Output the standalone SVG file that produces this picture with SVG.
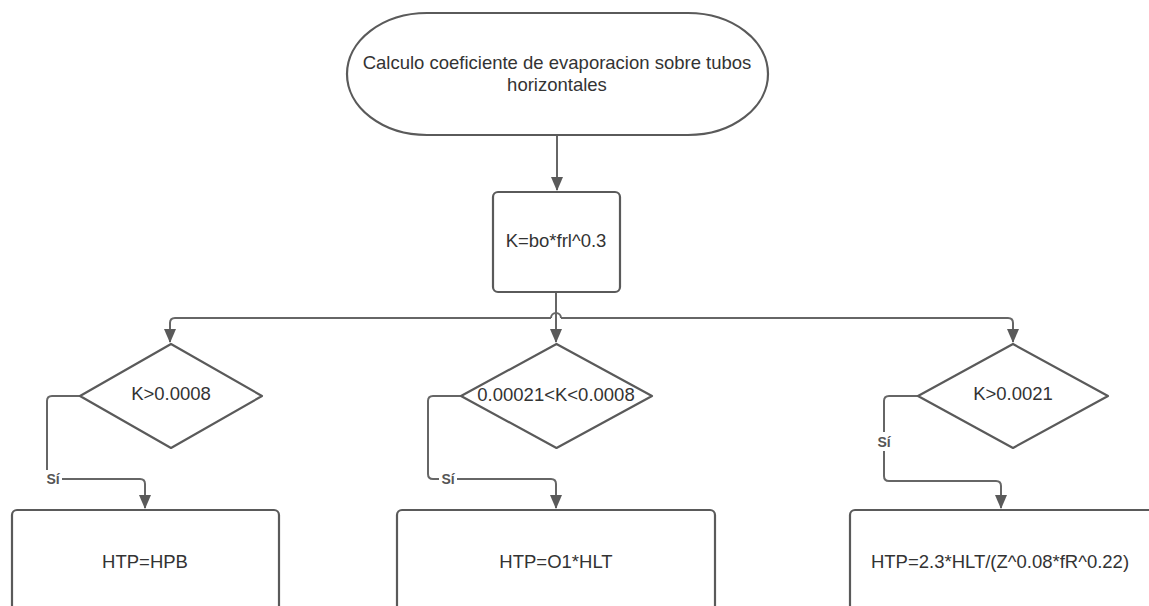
<svg xmlns="http://www.w3.org/2000/svg" width="1149" height="606" viewBox="0 0 1149 606">
<style>
.shape{fill:#ffffff;stroke:#5a5a5a;stroke-width:2.2}
.conn{fill:none;stroke:#666666;stroke-width:2}
.t{font-family:"Liberation Sans",Arial,sans-serif;font-size:18.5px;fill:#333333;text-anchor:middle}
.lbl{font-family:"Liberation Sans",Arial,sans-serif;font-size:14px;font-weight:bold;fill:#555555;text-anchor:middle}
</style>
<defs>
<marker id="arr" markerUnits="userSpaceOnUse" markerWidth="14" markerHeight="12" refX="13" refY="6" orient="auto" viewBox="0 0 14 12">
<path d="M0,0 L14,6 L0,12 Z" fill="#5a5a5a"/>
</marker>
</defs>
<rect width="1149" height="606" fill="#ffffff"/>
<g id="connectors">
<path class="conn" d="M557,135 V190" marker-end="url(#arr)"/>
<path class="conn" d="M556,292 V342" marker-end="url(#arr)"/>
<path class="conn" d="M551,318 H175 Q170,318 170,323 V342" marker-end="url(#arr)"/>
<path class="conn" d="M561,318 H1008 Q1013,318 1013,323 V342" marker-end="url(#arr)"/>
<path class="conn" d="M551,318 A5,5 0 0 1 561,318"/>
<path class="conn" d="M80,396 H52 Q47,396 47,401 V474 Q47,479 52,479 H140 Q145,479 145,484 V508" marker-end="url(#arr)"/>
<path class="conn" d="M461,396 H433 Q428,396 428,401 V474 Q428,479 433,479 H551 Q556,479 556,484 V508" marker-end="url(#arr)"/>
<path class="conn" d="M918,396 H889 Q884,396 884,401 V476 Q884,481 889,481 H996 Q1001,481 1001,486 V508" marker-end="url(#arr)"/>
<rect x="44" y="470" width="18" height="17" fill="#ffffff"/>
<text class="lbl" x="53" y="484">Sí</text>
<rect x="439" y="470" width="18" height="17" fill="#ffffff"/>
<text class="lbl" x="448" y="484">Sí</text>
<rect x="875" y="432" width="18" height="19" fill="#ffffff"/>
<text class="lbl" x="884" y="447">Sí</text>
</g>
<g id="start">
<rect class="shape" x="347" y="13" width="421" height="122" rx="80" ry="61"/>
<text class="t" x="557" y="69">Calculo coeficiente de evaporacion sobre tubos</text>
<text class="t" x="557" y="91">horizontales</text>
</g>
<g id="calcK">
<rect class="shape" x="493" y="192" width="127" height="100" rx="5"/>
<text class="t" x="556" y="247">K=bo*frl^0.3</text>
</g>
<g id="dec1">
<polygon class="shape" points="171,344 262,396 171,448 80,396" stroke-linejoin="round"/>
<text class="t" x="171" y="400">K&gt;0.0008</text>
</g>
<g id="dec2">
<polygon class="shape" points="556.5,344 652,396 556.5,448 461,396" stroke-linejoin="round"/>
<text class="t" x="556" y="401">0.00021&lt;K&lt;0.0008</text>
</g>
<g id="dec3">
<polygon class="shape" points="1013,344 1108,396 1013,448 918,396" stroke-linejoin="round"/>
<text class="t" x="1013" y="400">K&gt;0.0021</text>
</g>
<g id="res1">
<rect class="shape" x="12" y="510" width="267" height="120" rx="5"/>
<text class="t" x="145" y="568">HTP=HPB</text>
</g>
<g id="res2">
<rect class="shape" x="397" y="510" width="318" height="120" rx="5"/>
<text class="t" x="556" y="568">HTP=O1*HLT</text>
</g>
<g id="res3">
<rect class="shape" x="850" y="510" width="320" height="120" rx="5"/>
<text class="t" x="1000" y="568">HTP=2.3*HLT/(Z^0.08*fR^0.22)</text>
</g>
</svg>
